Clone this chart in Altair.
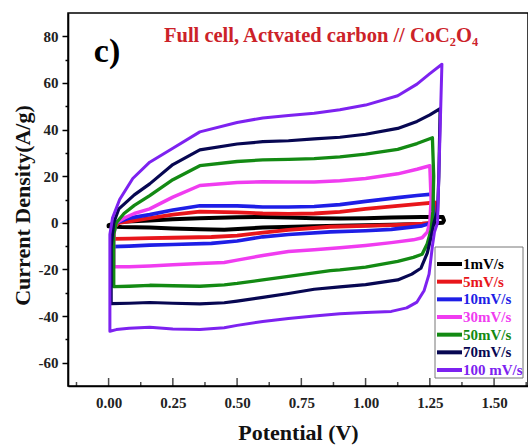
import altair as alt
import pandas as pd

series_names = ["1mV/s", "5mV/s", "10mV/s", "30mV/s", "50mV/s", "70mV/s", "100 mV/s"]
series_colors = ["#000000", "#e8161b", "#1e1ee6", "#f03cf0", "#138a13", "#070752", "#7d22f0"]
series_widths = [4, 3, 3, 3, 3, 3, 3.5]

# Each loop: potential (V) and current density (A/g), anodic sweep then cathodic sweep
v_1 = [0.0, 0.0, 0.05, 0.16, 0.25, 0.355, 0.5, 0.6, 0.7, 0.8, 0.9, 1.0, 1.1, 1.22, 1.3, 1.305, 1.3, 1.22, 1.1, 1.0, 0.8, 0.6, 0.45, 0.355, 0.25, 0.16, 0.05, 0.0]
j_1 = [-1.5, -1.0, 0.5, 1.0, 1.5, 2.0, 2.4, 2.5, 2.3, 2.0, 1.8, 2.0, 2.3, 2.5, 2.5, 1.0, 0.0, -0.5, -0.8, -1.0, -1.5, -2.0, -3.0, -2.8, -2.4, -2.0, -1.8, -1.5]

v_5 = [0.02, 0.02, 0.04, 0.1, 0.16, 0.25, 0.355, 0.5, 0.6, 0.7, 0.8, 0.9, 1.0, 1.125, 1.22, 1.27, 1.27, 1.26, 1.22, 1.1, 1.0, 0.863, 0.7, 0.6, 0.5, 0.4, 0.25, 0.16, 0.08, 0.02]
j_5 = [-6.9, -2.0, 0.0, 1.0, 2.0, 3.5, 4.8, 4.5, 4.0, 3.8, 4.0, 4.7, 6.0, 7.3, 8.2, 8.7, 3.0, 0.0, -0.4, -1.0, -1.3, -1.7, -3.0, -4.2, -5.5, -6.1, -6.4, -6.6, -6.8, -6.9]

v_10 = [0.015, 0.015, 0.03, 0.08, 0.16, 0.25, 0.355, 0.5, 0.6, 0.7, 0.8, 0.9, 1.0, 1.125, 1.2, 1.26, 1.265, 1.26, 1.22, 1.1, 1.0, 0.863, 0.7, 0.6, 0.5, 0.4, 0.25, 0.16, 0.08, 0.015]
j_10 = [-10.2, -3.0, 0.0, 2.0, 3.5, 5.5, 7.3, 7.3, 6.8, 6.8, 7.0, 7.8, 9.2, 10.8, 11.7, 12.3, 5.0, 0.0, -1.3, -2.8, -3.4, -3.9, -5.0, -6.0, -7.8, -8.8, -9.3, -9.6, -10.0, -10.2]

v_30 = [0.02, 0.02, 0.03, 0.06, 0.1, 0.16, 0.25, 0.355, 0.5, 0.6, 0.7, 0.8, 0.9, 1.0, 1.125, 1.2, 1.25, 1.255, 1.25, 1.24, 1.22, 1.186, 1.1, 1.0, 0.9, 0.8, 0.7, 0.6, 0.5, 0.45, 0.355, 0.25, 0.16, 0.08, 0.02]
j_30 = [-18.8, -5.0, 0.0, 2.0, 4.0, 6.0, 11.0, 16.0, 17.3, 17.6, 17.5, 17.5, 18.0, 19.0, 21.0, 23.0, 24.5, 10.0, 0.0, -4.0, -6.4, -7.3, -8.5, -9.7, -10.7, -11.6, -12.3, -14.0, -16.0, -17.0, -17.5, -18.0, -18.5, -18.8, -18.8]

v_50 = [0.02, 0.02, 0.03, 0.06, 0.1, 0.16, 0.25, 0.355, 0.5, 0.6, 0.7, 0.8, 0.9, 1.0, 1.125, 1.2, 1.26, 1.265, 1.262, 1.255, 1.24, 1.22, 1.186, 1.125, 1.0, 0.9, 0.863, 0.8, 0.7, 0.6, 0.5, 0.45, 0.355, 0.25, 0.16, 0.08, 0.02]
j_50 = [-27.4, -5.0, 0.0, 4.0, 7.5, 11.7, 18.5, 24.5, 26.3, 27.0, 27.2, 27.5, 28.3, 29.5, 31.5, 34.0, 36.5, 20.0, 5.0, -3.0, -9.0, -13.5, -14.8, -16.5, -19.0, -20.2, -20.5, -21.5, -23.0, -24.5, -26.0, -26.6, -27.2, -27.0, -26.8, -27.2, -27.4]

v_70 = [0.01, 0.01, 0.02, 0.04, 0.1, 0.16, 0.25, 0.355, 0.5, 0.6, 0.7, 0.8, 0.9, 1.0, 1.125, 1.2, 1.25, 1.29, 1.285, 1.28, 1.266, 1.255, 1.24, 1.215, 1.18, 1.125, 1.0, 0.9, 0.8, 0.7, 0.6, 0.5, 0.45, 0.355, 0.25, 0.16, 0.08, 0.01]
j_70 = [-34.7, -10.0, 0.0, 6.0, 12.0, 16.7, 25.0, 31.3, 33.8, 34.8, 35.2, 36.0, 36.7, 38.0, 40.5, 43.5, 46.3, 49.0, 20.0, 5.0, 0.0, -6.0, -13.0, -19.5, -22.0, -24.5, -26.5, -27.5, -28.5, -30.3, -32.0, -33.6, -34.3, -34.8, -34.5, -34.2, -34.5, -34.7]

v_100 = [0.005, 0.005, 0.015, 0.043, 0.094, 0.16, 0.25, 0.355, 0.5, 0.6, 0.7, 0.8, 0.9, 1.0, 1.125, 1.2, 1.25, 1.297, 1.28, 1.268, 1.26, 1.247, 1.228, 1.2, 1.16, 1.1, 1.0, 0.9, 0.8, 0.7, 0.6, 0.5, 0.45, 0.355, 0.25, 0.16, 0.08, 0.03, 0.005]
j_100 = [-46.5, -5.0, 2.0, 10.0, 19.0, 26.0, 32.0, 39.0, 43.0, 45.0, 46.0, 47.0, 48.5, 50.5, 54.5, 59.5, 64.0, 68.0, 0.0, -4.0, -10.0, -22.0, -29.0, -34.0, -36.5, -38.0, -38.5, -39.0, -40.0, -41.0, -42.3, -44.0, -45.0, -45.8, -45.5, -44.8, -45.2, -45.8, -46.5]

x_labels = [0.0, 0.25, 0.5, 0.75, 1.0, 1.25, 1.5]
x_minor = [-0.125, 0.125, 0.375, 0.625, 0.875, 1.125, 1.375, 1.625]
y_ticks = [-60, -50, -40, -30, -20, -10, 0, 10, 20, 30, 40, 50, 60, 70, 80]

loops = [(v_1, j_1), (v_5, j_5), (v_10, j_10), (v_30, j_30), (v_50, j_50), (v_70, j_70), (v_100, j_100)]
rows = []
for name, (vs, js) in zip(series_names, loops):
    for i, (v, j) in enumerate(zip(vs, js)):
        rows.append({"series": name, "idx": i, "V": v, "J": j})
df = pd.DataFrame(rows)
legend_df = pd.DataFrame({"series": series_names})

W, H = 460, 373
SERIF = "Liberation Serif"

x_scale = alt.Scale(domain=[-0.158, 1.632], nice=False, zero=False)
y_scale = alt.Scale(domain=[-70, 90], nice=False, zero=False)
color_scale = alt.Scale(domain=series_names, range=series_colors)
legend_rows = alt.Scale(type="point", domain=series_names, range=[251, 357], padding=0)

lines = alt.Chart(df).mark_line(strokeJoin="round", strokeCap="round").encode(
    x=alt.X("V:Q", scale=x_scale, axis=alt.Axis(
        values=x_labels, format=".2f", ticks=False, grid=False,
        domainColor="black", domainWidth=1.6,
        labelFont=SERIF, labelFontSize=15, labelFontWeight="bold", labelColor="#222",
        labelPadding=9,
        title="Potential (V)", titleFont=SERIF, titleFontSize=22, titleFontWeight="bold",
        titleColor="#111", titleY=46, titleBaseline="middle")),
    y=alt.Y("J:Q", scale=y_scale, axis=alt.Axis(
        values=y_ticks, grid=False,
        labelExpr="datum.value % 20 === 0 ? '' + datum.value : ''",
        tickSize={"condition": {"test": "datum.value % 20 === 0", "value": 6}, "value": 3},
        tickWidth=1.5, tickColor="black", domainColor="black", domainWidth=1.6,
        labelFont=SERIF, labelFontSize=15, labelFontWeight="bold", labelColor="#222",
        labelPadding=4,
        title="Current Density(A/g)", titleFont=SERIF, titleFontSize=22, titleFontWeight="bold",
        titleColor="#111", titleX=-46, titleY=192, titleAngle=270,
        titleAlign="center", titleBaseline="middle")),
    color=alt.Color("series:N", scale=color_scale, legend=None),
    strokeWidth=alt.StrokeWidth("series:N", scale=alt.Scale(domain=series_names, range=series_widths), legend=None),
    order="idx:Q",
    detail="series:N",
)

major_ticks = alt.Chart(pd.DataFrame({"V": x_labels})).mark_tick(
    size=8, thickness=1.5, color="black").encode(
    x=alt.X("V:Q", scale=x_scale), y=alt.value(H - 4))
minor_ticks = alt.Chart(pd.DataFrame({"V": x_minor})).mark_tick(
    size=4, thickness=1.5, color="black").encode(
    x=alt.X("V:Q", scale=x_scale), y=alt.value(H - 2))

panel_label = alt.Chart(pd.DataFrame({"t": ["c)"]})).mark_text(
    font=SERIF, fontSize=34, fontWeight="bold", color="black",
    align="center", baseline="middle").encode(
    text="t:N", x=alt.value(39), y=alt.value(39))

head = alt.Chart(pd.DataFrame({"t": ["Full cell, Actvated carbon // CoC\u2082O\u2084"]})).mark_text(
    font=SERIF, fontSize=20.5, fontWeight="bold", color="#cc2229",
    align="center", baseline="alphabetic").encode(
    text="t:N", x=alt.value(253), y=alt.value(29))

# legend drawn from the same colour scale
legend_box = alt.Chart(pd.DataFrame({"b": [0]})).mark_rect(
    fill="white", stroke="#777", strokeWidth=1).encode(
    x=alt.value(367), x2=alt.value(455), y=alt.value(234), y2=alt.value(365))
legend_lines = alt.Chart(legend_df).mark_rule(strokeWidth=4).encode(
    x=alt.value(369), x2=alt.value(394),
    y=alt.Y("series:N", scale=legend_rows, axis=None),
    color=alt.Color("series:N", scale=color_scale, legend=None))
legend_text = alt.Chart(legend_df).mark_text(
    font=SERIF, fontSize=15, fontWeight="bold", align="left", baseline="middle").encode(
    x=alt.value(395),
    y=alt.Y("series:N", scale=legend_rows, axis=None),
    text="series:N",
    color=alt.Color("series:N", scale=color_scale, legend=None))

chart = alt.layer(lines, major_ticks, minor_ticks, panel_label, head,
                  legend_box, legend_lines, legend_text).resolve_scale(
    y="independent").properties(
    width=W, height=H,
    autosize=alt.AutoSizeParams(type="none"),
    padding={"left": 68, "top": 13, "right": 0, "bottom": 61},
    background="white",
).configure_view(stroke="black", strokeWidth=1.5)

chart.save("out.html", embed_options={"renderer": "svg", "actions": False})
